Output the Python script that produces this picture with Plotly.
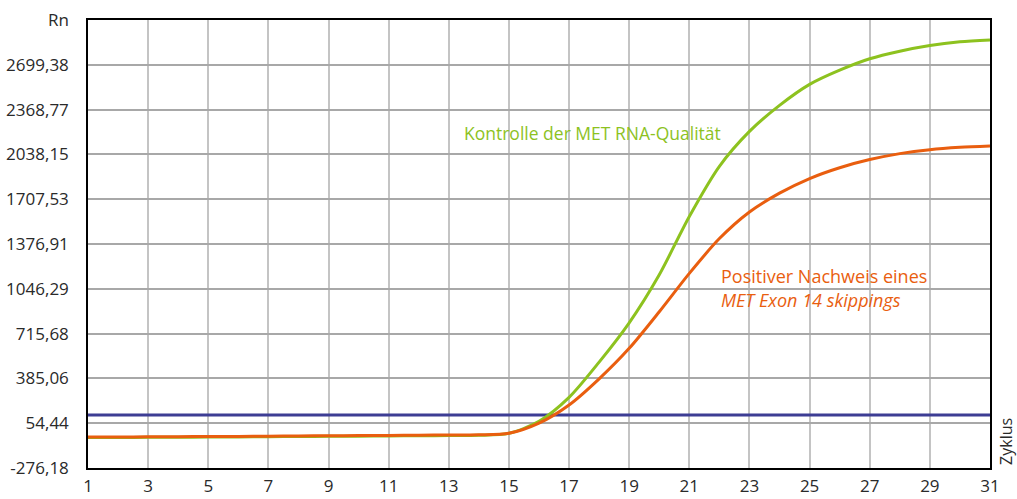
import plotly.graph_objects as go

cycles = list(range(1, 32))
control = [-52, -51, -50, -49, -48, -47, -45, -44, -42, -41, -40, -38, -37, -35, -20,
           68, 245, 505, 795, 1150, 1580, 1950, 2208, 2400, 2555, 2660, 2744, 2800, 2842, 2869, 2883]
positive = [-48, -47, -46, -45, -44, -43, -41, -40, -38, -37, -36, -34, -33, -31, -20,
            55, 189, 382, 607, 877, 1160, 1417, 1613, 1752, 1860, 1940, 2000, 2044, 2073, 2090, 2100]
threshold = 115

x_ticks = list(range(1, 32, 2))
y_ticks = [-276.18, 54.44, 385.06, 715.68, 1046.29, 1376.91, 1707.53, 2038.15, 2368.77, 2699.38, 3030.0]
y_ticktext = ["-276,18", "54,44", "385,06", "715,68", "1046,29", "1376,91", "1707,53",
              "2038,15", "2368,77", "2699,38", "Rn"]

GREEN = "#8dc21f"
ORANGE = "#e95e0f"
BLUE = "#3d3d94"
FONT = "Open Sans"
TXT = "#2a2a2a"

fig = go.Figure()
fig.add_trace(go.Scatter(x=[cycles[0], cycles[-1]], y=[threshold, threshold], mode="lines",
                         line=dict(color=BLUE, width=3), hoverinfo="skip"))
fig.add_trace(go.Scatter(x=cycles, y=control, mode="lines",
                         line=dict(color=GREEN, width=3, shape="spline", smoothing=0.8)))
fig.add_trace(go.Scatter(x=cycles, y=positive, mode="lines",
                         line=dict(color=ORANGE, width=3, shape="spline", smoothing=0.8)))

fig.add_annotation(x=13.45, y=2193, text="Kontrolle der MET RNA-Qualität", showarrow=False,
                   xanchor="left", yanchor="middle", font=dict(color=GREEN, size=17.5, family=FONT))
fig.add_annotation(x=22.0, y=1139, text="Positiver Nachweis eines", showarrow=False,
                   xanchor="left", yanchor="middle", font=dict(color=ORANGE, size=18, family=FONT))
fig.add_annotation(x=22.0, y=963, text="<i>MET Exon 14 skippings</i>", showarrow=False,
                   xanchor="left", yanchor="middle", font=dict(color=ORANGE, size=18, family=FONT))
fig.add_annotation(x=1.0175, y=0.06, xref="paper", yref="paper", text="Zyklus", showarrow=False,
                   textangle=-90, xanchor="center", yanchor="middle",
                   font=dict(color=TXT, size=16, family=FONT))

fig.update_layout(
    width=1017, height=499,
    margin=dict(l=88, r=27, t=20, b=31, autoexpand=False),
    paper_bgcolor="white", plot_bgcolor="white",
    showlegend=False,
    font=dict(family=FONT, size=17, color=TXT),
)
fig.update_xaxes(range=[1, 31], tickvals=x_ticks, showgrid=True, gridcolor="#c4c4c4", gridwidth=1.5,
                 showline=True, linecolor="black", linewidth=1.5, mirror=True, automargin=False,
                 zeroline=False, ticks="", ticklabelstandoff=2)
fig.update_yaxes(range=[-276.18, 3030.0], tickvals=y_ticks, ticktext=y_ticktext,
                 showgrid=True, gridcolor="#a8a8a8", gridwidth=1.5, automargin=False,
                 showline=True, linecolor="black", linewidth=1.5, mirror=True,
                 zeroline=False, ticks="", ticklabelstandoff=14)

fig.write_html("out.html", config={"displayModeBar": False})

with open("out.html", "r", encoding="utf-8") as f:
    html = f.read()
html = html.replace("<head>", "<head><style>html,body{margin:0;padding:0;overflow:hidden;}</style>", 1)
with open("out.html", "w", encoding="utf-8") as f:
    f.write(html)
